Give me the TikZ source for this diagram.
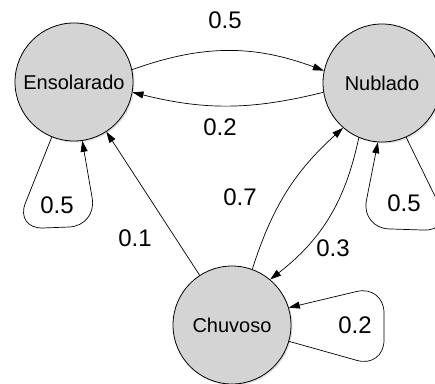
\documentclass[tikz,border=0pt]{standalone}
\usepackage{fontspec}
\setmainfont{Liberation Sans}
\usetikzlibrary{
  arrows.meta,
  shadows
}
\definecolor{stategray}{RGB}{212,212,212}
\tikzset{
%
  % For the weather states.
  weather/.style={
    circle,
    draw,
    line width=0.8pt,
    fill=stategray,
    minimum size=118pt,
    inner sep=0pt,
    font=\fontsize{20}{24}\selectfont,
    drop shadow={opacity=0.25,
                 shadow xshift=1.5pt,
                 shadow yshift=-1.5pt}},
%
  % For the transitions.
  trans/.style={
    line width=0.7pt,
    -{Triangle[length=11pt,
               width=7pt]}},
%
  % For the self loops.
  loop line/.style={
    trans,
    rounded corners=28pt},
%
  % For the probabilities.
  prob/.style={
    font=\fontsize{24}{28}\selectfont}
}

\begin{document}
\begin{tikzpicture}[x=1pt, y=1pt]
  \useasboundingbox (0,0) rectangle (435,383);

  \node[weather] (E) at (74,301) {Ensolarado};
  \node[weather] (N) at (382,300) {Nublado};
  \node[weather] (C) at (232,58) {Chuvoso};

  \draw[trans] (E.12) to[bend left=20] (N.168);
  \draw[trans] (N.189) to[bend left=14] (E.350);
  \draw[trans] (C) -- (E);
  \draw[trans] (C.70) to[bend left=15] (N.229);
  \draw[trans] (N.247) to[bend left=20] (C.50);

  % self loops
  \coordinate (ebl) at (15,154);
  \coordinate (ebr) at (97,157);
  \draw[loop line] (E.248) -- (ebl) -- (ebr) -- (E.278);
  \coordinate (nbr) at (452,152);
  \coordinate (nbl) at (361,155);
  \draw[loop line] (N.294) -- (nbr) -- (nbl) -- (N.266);
  \coordinate (cbr) at (384,15);
  \coordinate (ctr) at (384,98);
  \draw[loop line] (C.344) -- (cbr) -- (ctr) -- (C.17);

  \node[prob] (pEN) at (225,363) {0.5};
  \node[prob] (pNE) at (220,256) {0.2};
  \node[prob] (pEE) at (57,178) {0.5};
  \node[prob] (pCE) at (135,145) {0.1};
  \node[prob] (pCN) at (240,186) {0.7};
  \node[prob] (pNC) at (333,135) {0.3};
  \node[prob] (pNN) at (404,180) {0.5};
  \node[prob] (pCC) at (355,58) {0.2};
\end{tikzpicture}
\end{document}
